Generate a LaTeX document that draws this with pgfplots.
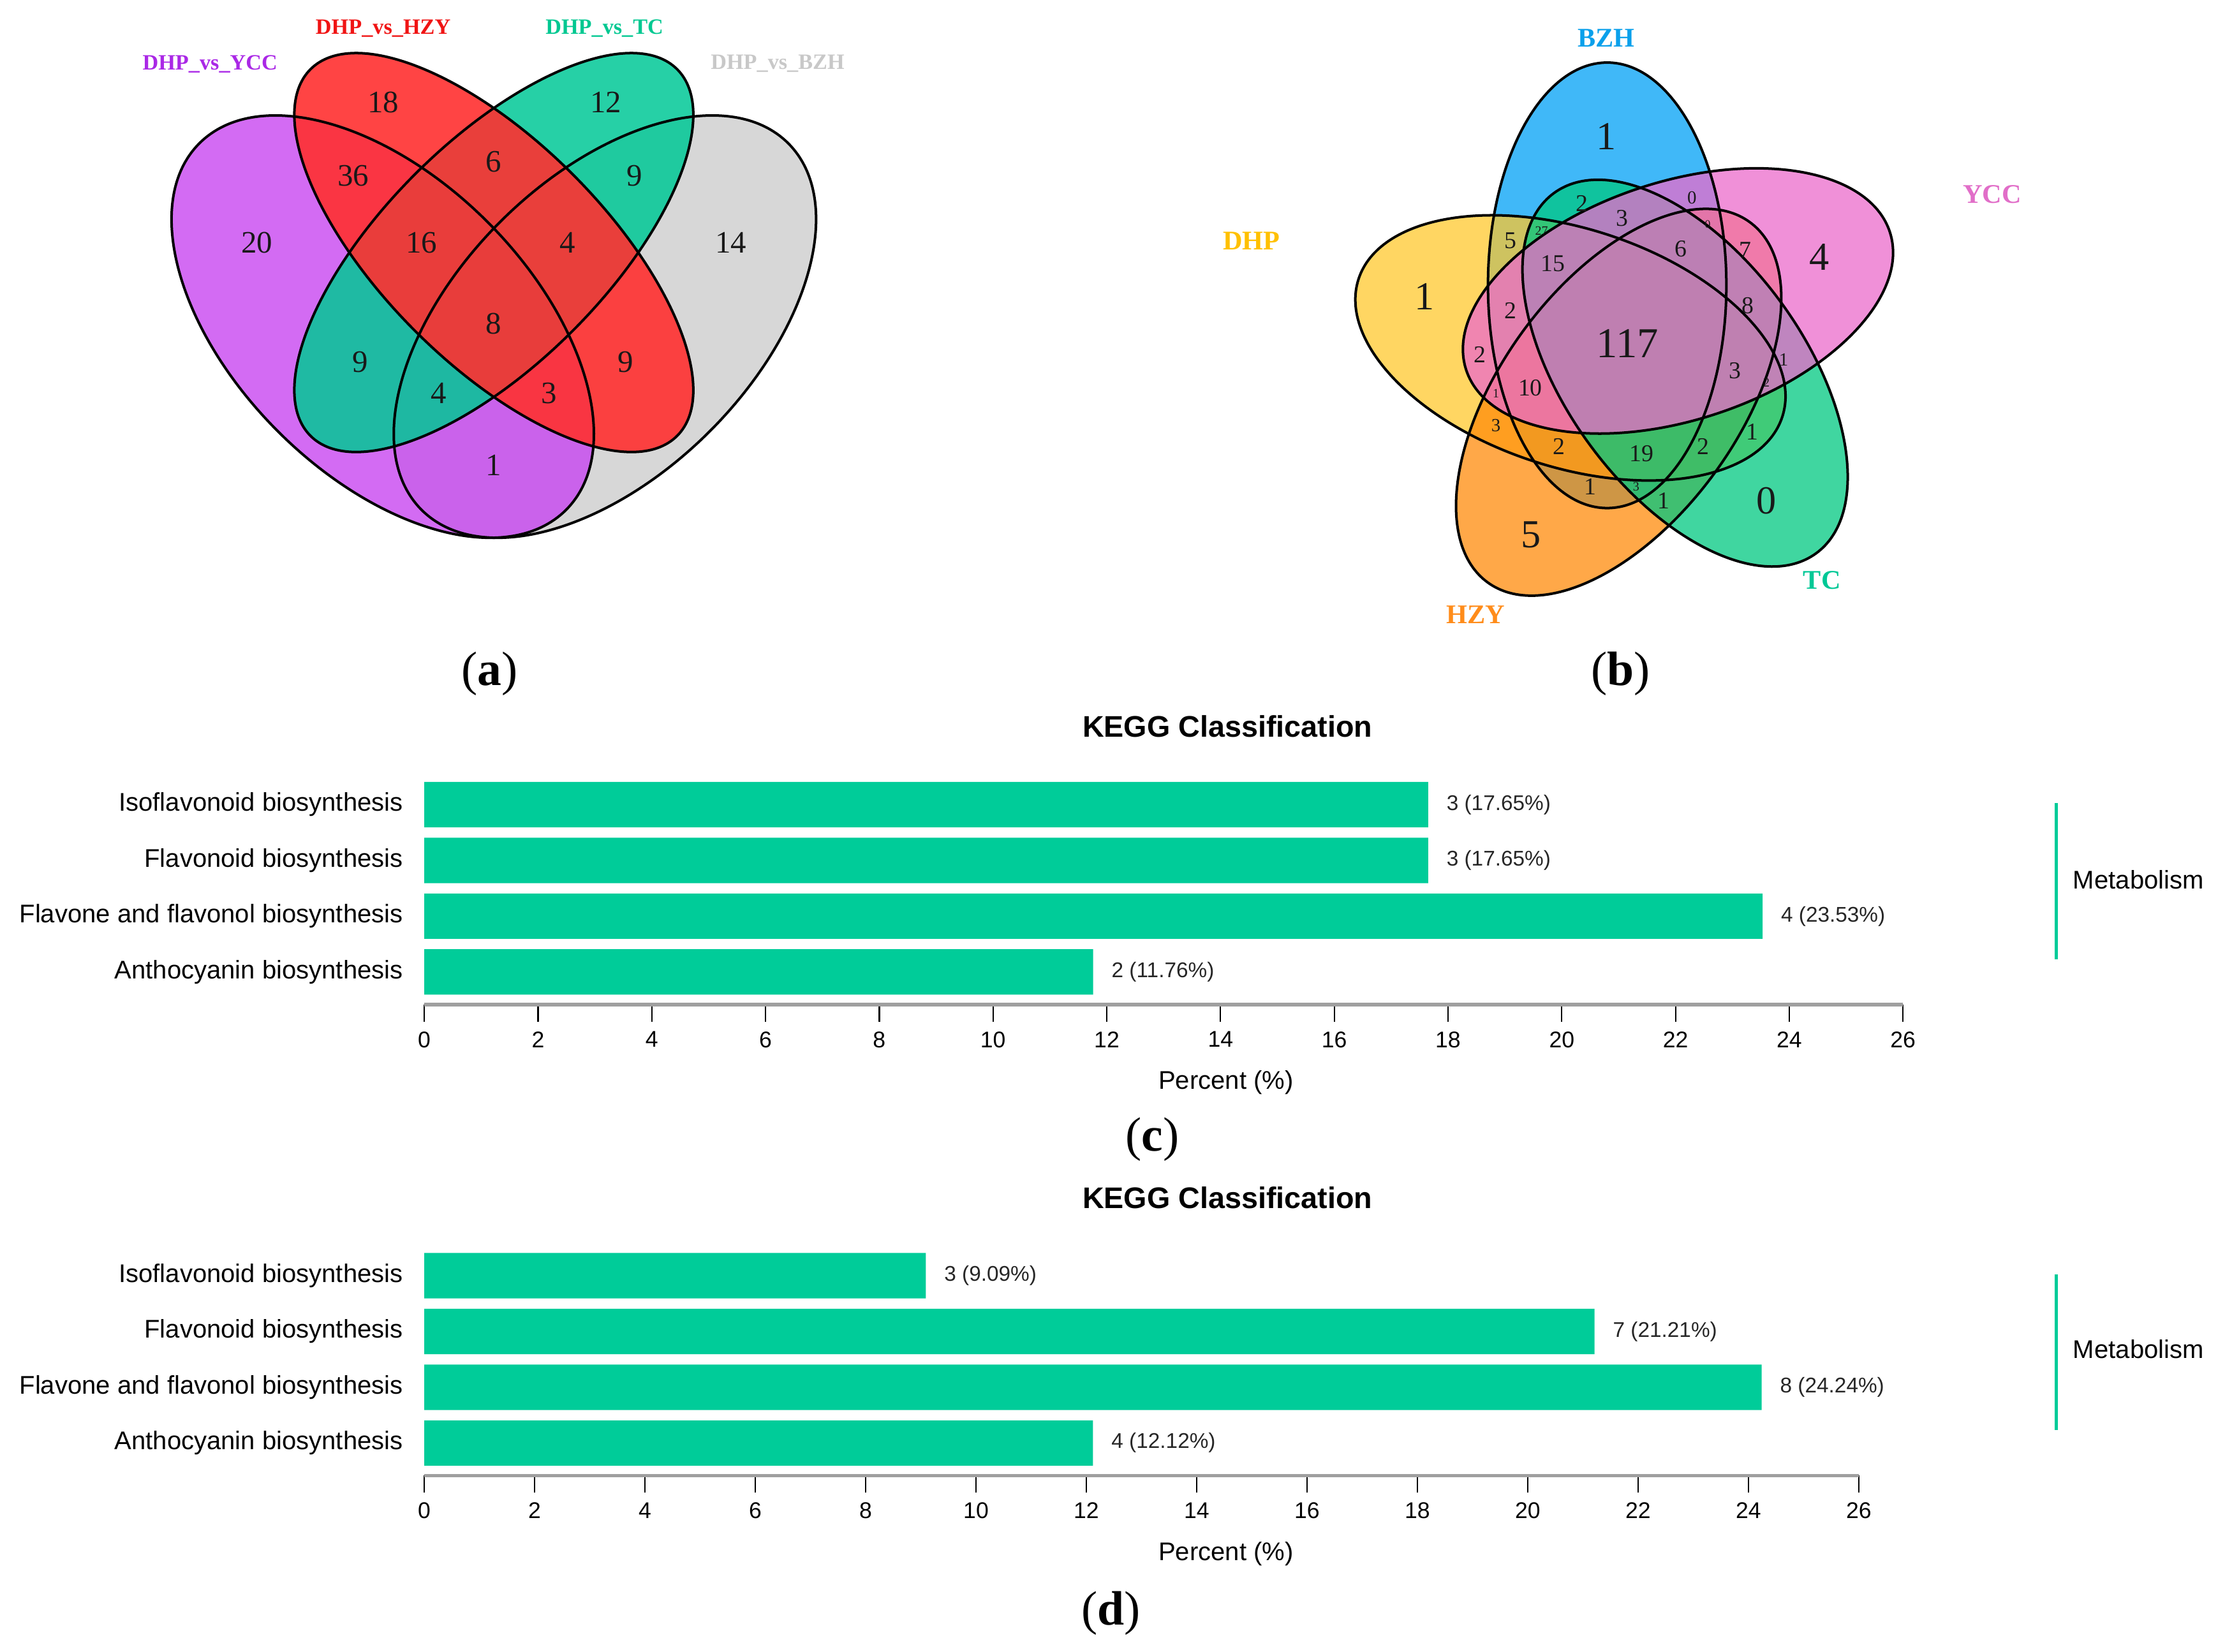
\documentclass[border=0pt]{standalone}
\usepackage{fontspec}
\setmainfont{Liberation Serif}
\newfontfamily\arial{Liberation Sans}
\usepackage{pgfplots}
\pgfplotsset{compat=1.18}

% venn (a)
\definecolor{apurple}{HTML}{C846F0}
\definecolor{ared}{HTML}{FF3030}
\definecolor{agreen}{HTML}{00C896}
\definecolor{agrey}{HTML}{CDCDCD}
% venn (b)
\definecolor{byellow}{HTML}{FFC82D}
\definecolor{borange}{HTML}{FF8B0B}
\definecolor{bblue}{HTML}{00A0F5}
\definecolor{bgreen}{HTML}{00C880}
\definecolor{bpink}{HTML}{EB6BCB}
% bars
\definecolor{barc}{HTML}{00CC99}

% ellipse: fill, cx, cy, angle, a, b, opacity
\newcommand{\vennfill}[7]{\fill[#1, fill opacity=#7, rotate around={#4:(axis cs:#2,#3)}] (axis cs:#2,#3) ellipse [x radius=#5, y radius=#6];}
\newcommand{\vennline}[5]{\draw[black, line width=0.9pt, rotate around={#3:(axis cs:#1,#2)}] (axis cs:#1,#2) ellipse [x radius=#4, y radius=#5];}
\newcommand{\num}[4]{\node[font=\fontsize{#1}{#1}\selectfont, text=black!90] at (axis cs:#2,-#3) {#4};}

\begin{document}
\begin{tikzpicture}
% canvas: one unit = one pixel of a 1568 x 1164 frame, y counted downwards as negative
\begin{axis}[at={(0pt,0pt)}, anchor=south west, x=0.5pt, y=0.5pt,
  xmin=0, xmax=1568, ymin=-1164, ymax=0, hide axis, clip=false]
\path (axis cs:0,-1164) rectangle (axis cs:1568,0);

% ---- (a) four-set venn
\vennfill{agrey}{426.3}{-230.2}{45}{182.7}{104.4}{0.8}
\vennfill{apurple}{269.7}{-230.2}{-45}{182.7}{104.4}{0.8}
\vennfill{agreen}{348}{-178}{45}{182.7}{78.3}{0.85}
\vennfill{ared}{348}{-178}{-45}{182.7}{78.3}{0.9}
\vennline{426.3}{-230.2}{45}{182.7}{104.4}
\vennline{269.7}{-230.2}{-45}{182.7}{104.4}
\vennline{348}{-178}{45}{182.7}{78.3}
\vennline{348}{-178}{-45}{182.7}{78.3}

\node[font=\fontsize{7.7}{8}\selectfont\bfseries, text={rgb,255:red,170;green,40;blue,230}] at (axis cs:148,-45) {DHP\_vs\_YCC};
\node[font=\fontsize{7.7}{8}\selectfont\bfseries, text={rgb,255:red,240;green,20;blue,20}] at (axis cs:270,-20) {DHP\_vs\_HZY};
\node[font=\fontsize{7.7}{8}\selectfont\bfseries, text={rgb,255:red,0;green,200;blue,145}] at (axis cs:426,-20) {DHP\_vs\_TC};
\node[font=\fontsize{7.7}{8}\selectfont\bfseries, text={rgb,255:red,200;green,200;blue,200}] at (axis cs:548,-45) {DHP\_vs\_BZH};

\num{11}{270}{72}{18}
\num{11}{427}{72}{12}
\num{11}{249}{124}{36}
\num{11}{348}{114}{6}
\num{11}{447}{124}{9}
\num{11}{181}{171}{20}
\num{11}{297}{171}{16}
\num{11}{400}{171}{4}
\num{11}{515}{171}{14}
\num{11}{348}{228}{8}
\num{11}{254}{255}{9}
\num{11}{441}{255}{9}
\num{11}{309}{277}{4}
\num{11}{387}{277}{3}
\num{11}{348}{328}{1}

% ---- (b) five-set venn
\vennfill{bblue}{1132.6}{-201.1}{90}{157}{84}{0.75}
\vennfill{byellow}{1106.7}{-245.2}{162}{157}{84}{0.75}
\vennfill{borange}{1140.7}{-283.5}{-126}{157}{84}{0.75}
\vennfill{bgreen}{1187.5}{-263.0}{-54}{157}{84}{0.75}
\vennfill{bpink}{1182.5}{-212.1}{18}{157}{84}{0.75}
\vennline{1106.7}{-245.2}{162}{157}{84}
\vennline{1140.7}{-283.5}{-126}{157}{84}
\vennline{1132.6}{-201.1}{90}{157}{84}
\vennline{1187.5}{-263.0}{-54}{157}{84}
\vennline{1182.5}{-212.1}{18}{157}{84}

\node[font=\fontsize{9.5}{10}\selectfont\bfseries, text={rgb,255:red,10;green,160;blue,235}] at (axis cs:1132,-27) {BZH};
\node[font=\fontsize{9.5}{10}\selectfont\bfseries, text={rgb,255:red,225;green,110;blue,200}] at (axis cs:1404,-137) {YCC};
\node[font=\fontsize{9.5}{10}\selectfont\bfseries, text={rgb,255:red,255;green,192;blue,0}] at (axis cs:882,-170) {DHP};
\node[font=\fontsize{9.5}{10}\selectfont\bfseries, text={rgb,255:red,255;green,140;blue,26}] at (axis cs:1040,-433) {HZY};
\node[font=\fontsize{9.5}{10}\selectfont\bfseries, text={rgb,255:red,0;green,200;blue,150}] at (axis cs:1284,-409) {TC};

\num{14}{1132}{96}{1}
\num{14}{1282}{181}{4}
\num{14}{1004}{209}{1}
\num{14}{1079}{377}{5}
\num{14}{1245}{353}{0}
\num{15}{1147}{242}{117}
\num{8.5}{1114.7}{143.5}{2}
\num{6.5}{1192.3}{139.2}{0}
\num{8.5}{1143}{154}{3}
\num{4}{1203.4}{158.2}{0}
\num{8.5}{1064.3}{169.5}{5}
\num{4.5}{1086.4}{162.5}{27}
\num{8.5}{1094.5}{185.9}{15}
\num{8.5}{1184.3}{175.5}{6}
\num{8.5}{1229.7}{176.4}{7}
\num{8.5}{1231.7}{215.3}{8}
\num{8.5}{1064.3}{218.7}{2}
\num{8.5}{1043}{249.9}{2}
\num{8.5}{1222.6}{261.1}{3}
\num{6.5}{1256.9}{253.3}{1}
\num{4.5}{1244.8}{269.7}{2}
\num{4.5}{1054.2}{277.5}{1}
\num{8.5}{1078.4}{273.2}{10}
\num{6.5}{1054.2}{300}{3}
\num{8.5}{1098.5}{314.7}{2}
\num{8.5}{1157}{319.9}{19}
\num{8.5}{1200.4}{314.7}{2}
\num{8.5}{1234.7}{304.3}{1}
\num{8.5}{1120.7}{343.2}{1}
\num{4.5}{1153}{343.2}{3}
\num{8.5}{1172.2}{352.7}{1}

% ---- panel letters
\node[font=\fontsize{17}{20}\selectfont] at (axis cs:345,-475) {(\textbf{a})};
\node[font=\fontsize{17}{20}\selectfont] at (axis cs:1142,-475) {(\textbf{b})};
\node[font=\fontsize{17}{20}\selectfont] at (axis cs:812,-803) {(\textbf{c})};
\node[font=\fontsize{17}{20}\selectfont] at (axis cs:783,-1137) {(\textbf{d})};

% ---- bar chart texts
\node[font=\arial\fontsize{10.5}{12}\selectfont\bfseries] at (axis cs:865,-512) {KEGG Classification};
\node[font=\arial\fontsize{10.5}{12}\selectfont\bfseries] at (axis cs:865,-844) {KEGG Classification};
\node[font=\arial\fontsize{9}{10}\selectfont] at (axis cs:864,-763) {Percent (\%)};
\node[font=\arial\fontsize{9}{10}\selectfont] at (axis cs:864,-1095) {Percent (\%)};
\node[font=\arial\fontsize{9}{10}\selectfont] at (axis cs:1507,-620) {Metabolism};
\node[font=\arial\fontsize{9}{10}\selectfont] at (axis cs:1507,-951) {Metabolism};
\draw[barc, line width=1pt] (axis cs:1449,-566) -- (axis cs:1449,-676);
\draw[barc, line width=1pt] (axis cs:1449,-898) -- (axis cs:1449,-1008);
\end{axis}

\pgfplotsset{keggbars/.style={
  xbar, y=19.65pt, xmin=0, xmax=26, ymin=-0.585, ymax=3.5,
  bar width=16pt,
  axis x line=bottom, axis y line=left,
  x axis line style={draw=gray!75, line width=1.2pt, -},
  y axis line style={draw=none},
  xtick={0,2,...,26}, ytick={0,1,2,3},
  yticklabels={Anthocyanin biosynthesis, Flavone and flavonol biosynthesis, Flavonoid biosynthesis, Isoflavonoid biosynthesis},
  xtick style={black, line width=0.5pt},
  ytick style={draw=none},
  tick align=outside, major tick length=6pt,
  xticklabel style={font=\arial\fontsize{8}{9}\selectfont},
  yticklabel style={font=\arial\fontsize{9}{10}\selectfont, xshift=2pt},
  /pgf/number format/assume math mode=true,
  point meta=explicit symbolic,
  nodes near coords={\pgfplotspointmeta},
  nodes near coords align=horizontal,
  every node near coord/.append style={font=\arial\fontsize{7.5}{8}\selectfont, text=black!85, anchor=west, xshift=3pt},
  clip=false}}

% ---- (c)
\begin{axis}[keggbars, at={(149.5pt,228pt)}, anchor=south west, x=20.04pt]
\addplot[fill=barc, draw=none] coordinates {
  (11.76,0) [2 (11.76\%)]
  (23.53,1) [4 (23.53\%)]
  (17.65,2) [3 (17.65\%)]
  (17.65,3) [3 (17.65\%)]
};
\end{axis}

% ---- (d)
\begin{axis}[keggbars, at={(149.5pt,62pt)}, anchor=south west, x=19.44pt]
\addplot[fill=barc, draw=none] coordinates {
  (12.12,0) [4 (12.12\%)]
  (24.24,1) [8 (24.24\%)]
  (21.21,2) [7 (21.21\%)]
  (9.09,3) [3 (9.09\%)]
};
\end{axis}
\end{tikzpicture}
\end{document}
